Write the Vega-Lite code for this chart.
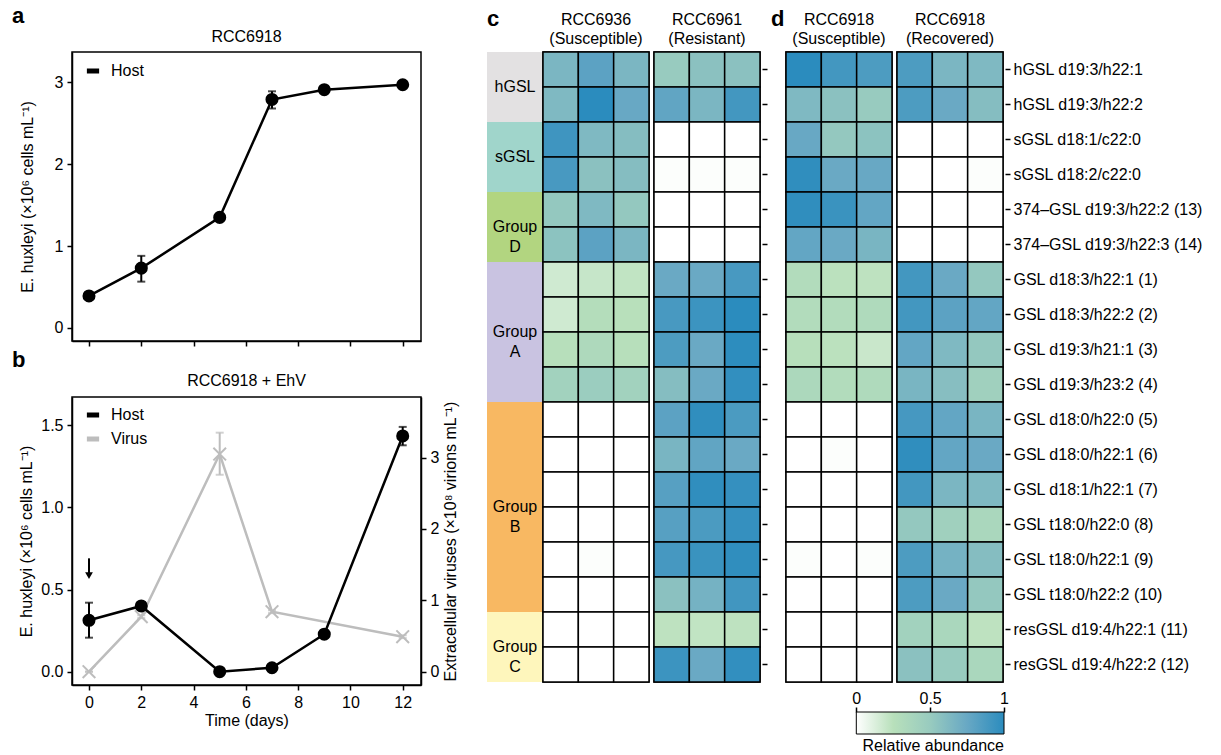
{
"$schema":"https://vega.github.io/schema/vega-lite/v6.json",
"padding":{"left":12,"top":5,"right":5,"bottom":5},
"config":{"font":"Liberation Sans","view":{"stroke":"black","strokeWidth":1.5},
"axis":{"labelFontSize":16,"titleFontSize":16,"titleFontWeight":"normal","labelColor":"black","titleColor":"black","tickColor":"black","domainColor":"black","tickWidth":1.5,"domainWidth":1.5,"grid":false,"tickSize":5,"labelFlush":false,"labelPadding":4},
"title":{"fontSize":16,"fontWeight":"normal","color":"black","offset":8},
"legend":{"labelFontSize":16,"labelColor":"black"}},
"datasets":{
"hostA":[{"day":0,"mean":0.39,"lo":0.37,"hi":0.41,"series":"Host"},{"day":2,"mean":0.73,"lo":0.565,"hi":0.88,"series":"Host"},{"day":5,"mean":1.35,"lo":1.33,"hi":1.37,"series":"Host"},{"day":7,"mean":2.79,"lo":2.68,"hi":2.89,"series":"Host"},{"day":9,"mean":2.91,"lo":2.89,"hi":2.93,"series":"Host"},{"day":12,"mean":2.97,"lo":2.95,"hi":2.99,"series":"Host"}],
"hostB":[{"day":0,"mean":0.313,"lo":0.207,"hi":0.42,"series":"Host"},{"day":2,"mean":0.40,"lo":0.38,"hi":0.42,"series":"Host"},{"day":5,"mean":0.0,"lo":0.0,"hi":0.0,"series":"Host"},{"day":7,"mean":0.024,"lo":0.015,"hi":0.033,"series":"Host"},{"day":9,"mean":0.228,"lo":0.21,"hi":0.25,"series":"Host"},{"day":12,"mean":1.435,"lo":1.378,"hi":1.49,"series":"Host"}],
"virusB":[{"day":0,"mean":0.0,"lo":0.0,"hi":0.0,"series":"Virus"},{"day":2,"mean":0.77,"lo":0.75,"hi":0.79,"series":"Virus"},{"day":5,"mean":3.05,"lo":2.76,"hi":3.35,"series":"Virus"},{"day":7,"mean":0.84,"lo":0.82,"hi":0.86,"series":"Virus"},{"day":12,"mean":0.49,"lo":0.47,"hi":0.51,"series":"Virus"}],
"arrow":[{"day":0,"top":0.69,"bottom":0.59,"head":0.585}],
"groups":[{"group":"hGSL","label":"hGSL","start":0,"end":2},{"group":"sGSL","label":"sGSL","start":2,"end":4},{"group":"D","label":"Group\nD","start":4,"end":6},{"group":"A","label":"Group\nA","start":6,"end":10},{"group":"B","label":"Group\nB","start":10,"end":16},{"group":"C","label":"Group\nC","start":16,"end":18}],
"heat":[
{"strain":"6936","lipid":"hGSL d19:3/h22:1","a":0.65,"b":0.80,"c":0.65},
{"strain":"6936","lipid":"hGSL d19:3/h22:2","a":0.63,"b":1.0,"c":0.75},
{"strain":"6936","lipid":"sGSL d18:1/c22:0","a":0.92,"b":0.63,"c":0.60},
{"strain":"6936","lipid":"sGSL d18:2/c22:0","a":0.88,"b":0.57,"c":0.60},
{"strain":"6936","lipid":"374–GSL d19:3/h22:2 (13)","a":0.52,"b":0.63,"c":0.52},
{"strain":"6936","lipid":"374–GSL d19:3/h22:3 (14)","a":0.56,"b":0.80,"c":0.65},
{"strain":"6936","lipid":"GSL d18:3/h22:1 (1)","a":0.17,"b":0.20,"c":0.22},
{"strain":"6936","lipid":"GSL d18:3/h22:2 (2)","a":0.17,"b":0.28,"c":0.25},
{"strain":"6936","lipid":"GSL d19:3/h21:1 (3)","a":0.26,"b":0.33,"c":0.26},
{"strain":"6936","lipid":"GSL d19:3/h23:2 (4)","a":0.42,"b":0.48,"c":0.42},
{"strain":"6936","lipid":"GSL d18:0/h22:0 (5)","a":0,"b":0,"c":0},
{"strain":"6936","lipid":"GSL d18:0/h22:1 (6)","a":0,"b":0,"c":0},
{"strain":"6936","lipid":"GSL d18:1/h22:1 (7)","a":0,"b":0,"c":0},
{"strain":"6936","lipid":"GSL t18:0/h22:0 (8)","a":0,"b":0,"c":0},
{"strain":"6936","lipid":"GSL t18:0/h22:1 (9)","a":0,"b":0.01,"c":0},
{"strain":"6936","lipid":"GSL t18:0/h22:2 (10)","a":0,"b":0,"c":0},
{"strain":"6936","lipid":"resGSL d19:4/h22:1 (11)","a":0,"b":0,"c":0},
{"strain":"6936","lipid":"resGSL d19:4/h22:2 (12)","a":0,"b":0,"c":0},
{"strain":"6961","lipid":"hGSL d19:3/h22:1","a":0.50,"b":0.57,"c":0.57},
{"strain":"6961","lipid":"hGSL d19:3/h22:2","a":0.78,"b":0.65,"c":0.90},
{"strain":"6961","lipid":"sGSL d18:1/c22:0","a":0,"b":0,"c":0},
{"strain":"6961","lipid":"sGSL d18:2/c22:0","a":0.01,"b":0.01,"c":0.01},
{"strain":"6961","lipid":"374–GSL d19:3/h22:2 (13)","a":0,"b":0,"c":0},
{"strain":"6961","lipid":"374–GSL d19:3/h22:3 (14)","a":0,"b":0,"c":0},
{"strain":"6961","lipid":"GSL d18:3/h22:1 (1)","a":0.74,"b":0.74,"c":0.88},
{"strain":"6961","lipid":"GSL d18:3/h22:2 (2)","a":0.88,"b":0.93,"c":1.0},
{"strain":"6961","lipid":"GSL d19:3/h21:1 (3)","a":0.86,"b":0.74,"c":0.99},
{"strain":"6961","lipid":"GSL d19:3/h23:2 (4)","a":0.60,"b":0.74,"c":0.97},
{"strain":"6961","lipid":"GSL d18:0/h22:0 (5)","a":0.80,"b":0.98,"c":0.87},
{"strain":"6961","lipid":"GSL d18:0/h22:1 (6)","a":0.66,"b":0.78,"c":0.74},
{"strain":"6961","lipid":"GSL d18:1/h22:1 (7)","a":0.82,"b":0.98,"c":0.96},
{"strain":"6961","lipid":"GSL t18:0/h22:0 (8)","a":0.82,"b":0.87,"c":0.96},
{"strain":"6961","lipid":"GSL t18:0/h22:1 (9)","a":0.89,"b":0.94,"c":0.98},
{"strain":"6961","lipid":"GSL t18:0/h22:2 (10)","a":0.57,"b":0.68,"c":0.91},
{"strain":"6961","lipid":"resGSL d19:4/h22:1 (11)","a":0.23,"b":0.22,"c":0.23},
{"strain":"6961","lipid":"resGSL d19:4/h22:2 (12)","a":0.93,"b":0.74,"c":0.97},
{"strain":"6918S","lipid":"hGSL d19:3/h22:1","a":1.0,"b":0.90,"c":0.86},
{"strain":"6918S","lipid":"hGSL d19:3/h22:2","a":0.63,"b":0.57,"c":0.50},
{"strain":"6918S","lipid":"sGSL d18:1/c22:0","a":0.75,"b":0.52,"c":0.56},
{"strain":"6918S","lipid":"sGSL d18:2/c22:0","a":0.98,"b":0.74,"c":0.75},
{"strain":"6918S","lipid":"374–GSL d19:3/h22:2 (13)","a":0.98,"b":0.94,"c":0.77},
{"strain":"6918S","lipid":"374–GSL d19:3/h22:3 (14)","a":0.77,"b":0.74,"c":0.66},
{"strain":"6918S","lipid":"GSL d18:3/h22:1 (1)","a":0.30,"b":0.24,"c":0.23},
{"strain":"6918S","lipid":"GSL d18:3/h22:2 (2)","a":0.30,"b":0.30,"c":0.32},
{"strain":"6918S","lipid":"GSL d19:3/h21:1 (3)","a":0.26,"b":0.24,"c":0.19},
{"strain":"6918S","lipid":"GSL d19:3/h23:2 (4)","a":0.34,"b":0.30,"c":0.32},
{"strain":"6918S","lipid":"GSL d18:0/h22:0 (5)","a":0,"b":0,"c":0},
{"strain":"6918S","lipid":"GSL d18:0/h22:1 (6)","a":0,"b":0.01,"c":0},
{"strain":"6918S","lipid":"GSL d18:1/h22:1 (7)","a":0,"b":0,"c":0},
{"strain":"6918S","lipid":"GSL t18:0/h22:0 (8)","a":0,"b":0,"c":0},
{"strain":"6918S","lipid":"GSL t18:0/h22:1 (9)","a":0.01,"b":0,"c":0.01},
{"strain":"6918S","lipid":"GSL t18:0/h22:2 (10)","a":0,"b":0,"c":0},
{"strain":"6918S","lipid":"resGSL d19:4/h22:1 (11)","a":0,"b":0,"c":0},
{"strain":"6918S","lipid":"resGSL d19:4/h22:2 (12)","a":0,"b":0,"c":0},
{"strain":"6918R","lipid":"hGSL d19:3/h22:1","a":0.86,"b":0.65,"c":0.63},
{"strain":"6918R","lipid":"hGSL d19:3/h22:2","a":0.86,"b":0.74,"c":0.60},
{"strain":"6918R","lipid":"sGSL d18:1/c22:0","a":0,"b":0,"c":0},
{"strain":"6918R","lipid":"sGSL d18:2/c22:0","a":0,"b":0,"c":0.01},
{"strain":"6918R","lipid":"374–GSL d19:3/h22:2 (13)","a":0,"b":0,"c":0},
{"strain":"6918R","lipid":"374–GSL d19:3/h22:3 (14)","a":0,"b":0,"c":0},
{"strain":"6918R","lipid":"GSL d18:3/h22:1 (1)","a":0.90,"b":0.74,"c":0.52},
{"strain":"6918R","lipid":"GSL d18:3/h22:2 (2)","a":0.90,"b":0.80,"c":0.77},
{"strain":"6918R","lipid":"GSL d19:3/h21:1 (3)","a":0.77,"b":0.63,"c":0.52},
{"strain":"6918R","lipid":"GSL d19:3/h23:2 (4)","a":0.66,"b":0.59,"c":0.44},
{"strain":"6918R","lipid":"GSL d18:0/h22:0 (5)","a":0.89,"b":0.77,"c":0.66},
{"strain":"6918R","lipid":"GSL d18:0/h22:1 (6)","a":0.98,"b":0.77,"c":0.74},
{"strain":"6918R","lipid":"GSL d18:1/h22:1 (7)","a":0.90,"b":0.65,"c":0.63},
{"strain":"6918R","lipid":"GSL t18:0/h22:0 (8)","a":0.52,"b":0.44,"c":0.36},
{"strain":"6918R","lipid":"GSL t18:0/h22:1 (9)","a":0.86,"b":0.68,"c":0.60},
{"strain":"6918R","lipid":"GSL t18:0/h22:2 (10)","a":0.86,"b":0.74,"c":0.52},
{"strain":"6918R","lipid":"resGSL d19:4/h22:1 (11)","a":0.42,"b":0.36,"c":0.23},
{"strain":"6918R","lipid":"resGSL d19:4/h22:2 (12)","a":0.57,"b":0.50,"c":0.36}
]},
"spacing":27,
"resolve":{"scale":{"color":"independent"}},
"hconcat":[
{"vconcat":[
 {"title":{"text":"a","anchor":"start","frame":"group","dx":-60,"fontSize":22,"fontWeight":"bold","offset":0},
  "vconcat":[{
  "width":349,"height":289,
  "title":{"text":"RCC6918","offset":7},
  "data":{"name":"hostA"},
  "encoding":{"x":{"field":"day","type":"quantitative","scale":{"domain":[-0.65,12.7],"nice":false,"zero":false},"axis":{"values":[0,2,4,6,8,10,12],"labels":false,"title":null}}},
  "layer":[
   {"mark":{"type":"line","strokeWidth":2.5},"encoding":{"y":{"field":"mean","type":"quantitative","title":"E. huxleyi (×10⁶ cells mL⁻¹)","scale":{"domain":[-0.16,3.37],"nice":false,"zero":false},"axis":{"values":[0,1,2,3],"format":"d","titlePadding":19}},"color":{"field":"series","type":"nominal","scale":{"domain":["Host"],"range":["black"]},"legend":{"title":null,"orient":"none","legendX":12,"legendY":10,"symbolType":"stroke","symbolStrokeWidth":5,"symbolSize":150,"labelOffset":9,"rowPadding":4}}}},
   {"mark":{"type":"errorbar","ticks":{"size":8,"thickness":2},"thickness":2,"color":"black"},"encoding":{"y":{"field":"lo","type":"quantitative","title":"E. huxleyi (×10⁶ cells mL⁻¹)"},"y2":{"field":"hi"}}},
   {"mark":{"type":"circle","size":170,"opacity":1,"color":"black"},"encoding":{"y":{"field":"mean","type":"quantitative","title":"E. huxleyi (×10⁶ cells mL⁻¹)"}}}
  ]}]},
 {"title":{"text":"b","anchor":"start","frame":"group","dx":-60,"fontSize":22,"fontWeight":"bold","offset":0},
  "vconcat":[{
  "width":349,"height":288,
  "title":{"text":"RCC6918 + EhV","offset":8},
  "encoding":{"x":{"field":"day","type":"quantitative","scale":{"domain":[-0.65,12.7],"nice":false,"zero":false},"axis":{"values":[0,2,4,6,8,10,12],"title":"Time (days)","titlePadding":2}}},
  "layer":[
   {"data":{"name":"virusB"},"layer":[
     {"mark":{"type":"line","strokeWidth":2.5},"encoding":{"y":{"field":"mean","type":"quantitative","title":"Extracellular viruses (×10⁸ virions mL⁻¹)","scale":{"domain":[-0.187,3.85],"nice":false,"zero":false},"axis":{"orient":"right","values":[0,1,2,3],"format":"d","titleAngle":270,"titleBaseline":"top","titlePadding":4}},"color":{"field":"series","type":"nominal","scale":{"domain":["Host","Virus"],"range":["black","#bdbdbd"]},"legend":{"title":null,"orient":"none","legendX":12,"legendY":9,"symbolType":"stroke","symbolStrokeWidth":5,"symbolSize":150,"labelOffset":9,"rowPadding":4}}}},
     {"mark":{"type":"errorbar","ticks":{"size":8,"thickness":2},"thickness":2,"color":"#bdbdbd"},"encoding":{"y":{"field":"lo","type":"quantitative","title":"Extracellular viruses (×10⁸ virions mL⁻¹)"},"y2":{"field":"hi"}}},
     {"mark":{"type":"point","shape":"M-1,-1L1,1M-1,1L1,-1","filled":false,"size":160,"strokeWidth":2,"color":"#bdbdbd","opacity":1},"encoding":{"y":{"field":"mean","type":"quantitative","title":"Extracellular viruses (×10⁸ virions mL⁻¹)"}}}
   ]},
   {"layer":[
     {"data":{"name":"hostB"},"mark":{"type":"line","strokeWidth":2.5},"encoding":{"y":{"field":"mean","type":"quantitative","title":"E. huxleyi (×10⁶ cells mL⁻¹)","scale":{"domain":[-0.081,1.672],"nice":false,"zero":false},"axis":{"orient":"left","values":[0,0.5,1,1.5],"format":".1f","titlePadding":6}},"color":{"field":"series","type":"nominal","scale":{"domain":["Host","Virus"],"range":["black","#bdbdbd"]}}}},
     {"data":{"name":"hostB"},"mark":{"type":"errorbar","ticks":{"size":8,"thickness":2},"thickness":2,"color":"black"},"encoding":{"y":{"field":"lo","type":"quantitative","title":"E. huxleyi (×10⁶ cells mL⁻¹)"},"y2":{"field":"hi"}}},
     {"data":{"name":"hostB"},"mark":{"type":"circle","size":170,"opacity":1,"color":"black"},"encoding":{"y":{"field":"mean","type":"quantitative","title":"E. huxleyi (×10⁶ cells mL⁻¹)"}}},
     {"data":{"name":"arrow"},"mark":{"type":"rule","strokeWidth":2,"color":"black"},"encoding":{"y":{"field":"top","type":"quantitative","title":"E. huxleyi (×10⁶ cells mL⁻¹)"},"y2":{"field":"bottom"}}},
     {"data":{"name":"arrow"},"mark":{"type":"point","shape":"triangle-down","filled":true,"size":60,"color":"black","opacity":1},"encoding":{"y":{"field":"head","type":"quantitative","title":"E. huxleyi (×10⁶ cells mL⁻¹)"}}}
   ]}
  ],
  "resolve":{"scale":{"y":"independent"}}
 }]}
],"spacing":1,"resolve":{"scale":{"color":"independent"}}},
{"hconcat":[
 {"title":{"text":"c","anchor":"start","frame":"group","fontSize":22,"fontWeight":"bold","offset":-19},
  "spacing":-2,
  "hconcat":[
   {"width":56,"height":630,"view":{"stroke":null},
    "data":{"name":"groups"},
    "encoding":{"y":{"field":"start","type":"quantitative","scale":{"domain":[0,18],"reverse":true,"nice":false,"zero":false},"axis":null}},
    "layer":[
     {"mark":{"type":"rect"},"encoding":{"y2":{"field":"end"},"color":{"field":"group","type":"nominal","scale":{"domain":["hGSL","sGSL","D","A","B","C"],"range":["#e3e1e2","#a0d5cb","#b2d580","#c9c3e1","#f8b862","#fef6bc"]},"legend":null}}},
     {"transform":[{"calculate":"(datum.start+datum.end)/2","as":"mid"}],"mark":{"type":"text","fontSize":16,"lineBreak":"\n","baseline":"middle","lineHeight":20,"color":"black"},"encoding":{"y":{"field":"mid","type":"quantitative"},"text":{"field":"label"}}}
    ]},
   {"spacing":1,"hconcat":[
    {"width":106,"height":630,"title":{"text":["RCC6936","(Susceptible)"],"lineHeight":19,"offset":4},
     "data":{"name":"heat"},
     "transform":[{"filter":"datum.strain==='6936'"},{"fold":["a","b","c"],"as":["rep","value"]}],
     "mark":{"type":"rect","stroke":"black","strokeWidth":1.5},
     "encoding":{"x":{"field":"rep","type":"nominal","axis":null,"scale":{"padding":0}},
      "y":{"field":"lipid","type":"nominal","sort":null,"axis":null,"scale":{"padding":0}},
      "fill":{"field":"value","type":"quantitative","scale":{"type":"linear","domain":[0,0.25,0.5,0.75,1],"range":["#ffffff","#b8e0bb","#98cbbf","#68a8c4","#2b8cbe"],"interpolate":"rgb","clamp":true},"legend":null}}},
    {"width":106,"height":630,"title":{"text":["RCC6961","(Resistant)"],"lineHeight":19,"offset":4},
     "data":{"name":"heat"},
     "transform":[{"filter":"datum.strain==='6961'"},{"fold":["a","b","c"],"as":["rep","value"]}],
     "mark":{"type":"rect","stroke":"black","strokeWidth":1.5},
     "encoding":{"x":{"field":"rep","type":"nominal","axis":null,"scale":{"padding":0}},
      "y":{"field":"lipid","type":"nominal","sort":null,"scale":{"padding":0},"axis":{"orient":"right","labels":false,"domain":false,"offset":2,"tickSize":5,"title":null}},
      "fill":{"field":"value","type":"quantitative","scale":{"type":"linear","domain":[0,0.25,0.5,0.75,1],"range":["#ffffff","#b8e0bb","#98cbbf","#68a8c4","#2b8cbe"],"interpolate":"rgb","clamp":true},"legend":null}}}
   ]}
  ]},
 {"vconcat":[
  {"title":{"text":"d","anchor":"start","frame":"group","dx":-15,"fontSize":22,"fontWeight":"bold","offset":-19},
   "spacing":1,
   "hconcat":[
    {"width":106,"height":630,"title":{"text":["RCC6918","(Susceptible)"],"lineHeight":19,"offset":4},
     "data":{"name":"heat"},
     "transform":[{"filter":"datum.strain==='6918S'"},{"fold":["a","b","c"],"as":["rep","value"]}],
     "mark":{"type":"rect","stroke":"black","strokeWidth":1.5},
     "encoding":{"x":{"field":"rep","type":"nominal","axis":null,"scale":{"padding":0}},
      "y":{"field":"lipid","type":"nominal","sort":null,"axis":null,"scale":{"padding":0}},
      "fill":{"field":"value","type":"quantitative","scale":{"type":"linear","domain":[0,0.25,0.5,0.75,1],"range":["#ffffff","#b8e0bb","#98cbbf","#68a8c4","#2b8cbe"],"interpolate":"rgb","clamp":true},"legend":null}}},
    {"width":106,"height":630,"title":{"text":["RCC6918","(Recovered)"],"lineHeight":19,"offset":4},
     "data":{"name":"heat"},
     "transform":[{"filter":"datum.strain==='6918R'"},{"fold":["a","b","c"],"as":["rep","value"]}],
     "mark":{"type":"rect","stroke":"black","strokeWidth":1.5},
     "encoding":{"x":{"field":"rep","type":"nominal","axis":null,"scale":{"padding":0}},
      "y":{"field":"lipid","type":"nominal","sort":null,"scale":{"padding":0},"axis":{"orient":"right","domain":false,"offset":2,"tickSize":5,"labelPadding":3,"title":null,"labelFontSize":16,"labelLimit":300}},
      "fill":{"field":"value","type":"quantitative","scale":{"type":"linear","domain":[0,0.25,0.5,0.75,1],"range":["#ffffff","#b8e0bb","#98cbbf","#68a8c4","#2b8cbe"],"interpolate":"rgb","clamp":true},"legend":null}}}
   ]},
  {"width":218,"height":22,"view":{"stroke":null},
   "data":{"values":[{"lo":0,"hi":1}]},
   "title":{"text":"Relative abundance","orient":"bottom","anchor":"end","frame":"group","offset":3},
   "mark":{"type":"rect","stroke":"black","strokeWidth":1,"fill":{"gradient":"linear","x1":0,"y1":0,"x2":1,"y2":0,"stops":[{"offset":0,"color":"#ffffff"},{"offset":0.25,"color":"#b8e0bb"},{"offset":0.5,"color":"#98cbbf"},{"offset":0.75,"color":"#68a8c4"},{"offset":1,"color":"#2b8cbe"}]}},
   "encoding":{"x":{"field":"lo","type":"quantitative","scale":{"domain":[-0.476,1],"nice":false,"zero":false},"axis":{"orient":"top","values":[0,0.5,1],"format":"~g","domain":false,"title":null,"tickSize":5,"labelPadding":1}},"x2":{"field":"hi"}}}
 ],"spacing":6}
],"spacing":2}
]
}
